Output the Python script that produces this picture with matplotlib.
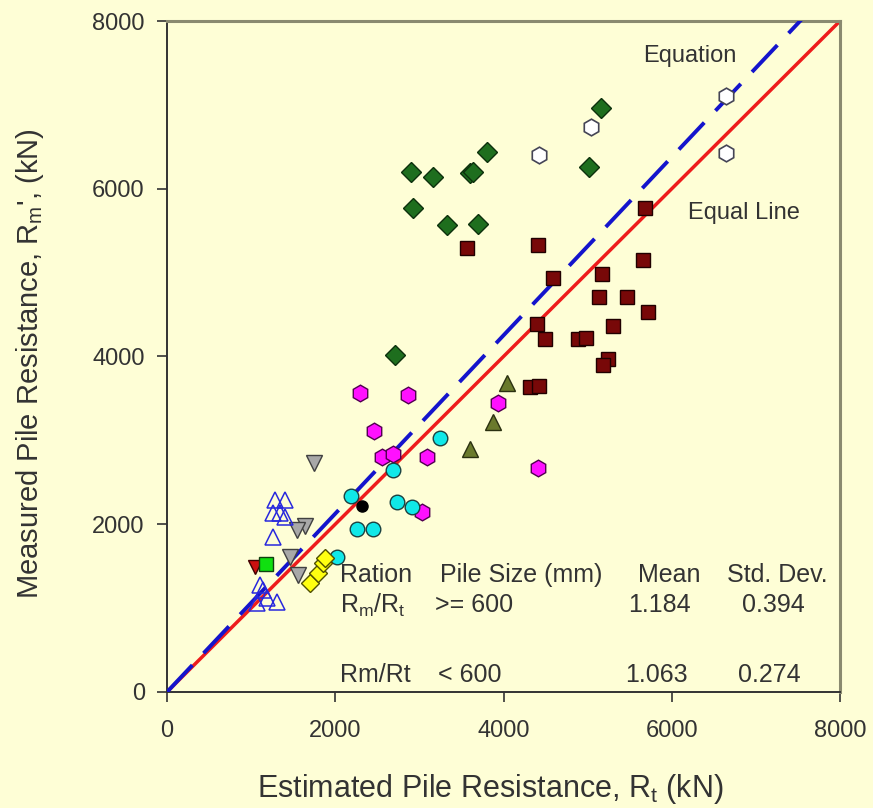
import numpy as np
import matplotlib
matplotlib.use("Agg")
import matplotlib.pyplot as plt

plt.rcParams['font.family'] = ['Liberation Sans', 'DejaVu Sans']

# pares (Rt, Rm) em kN
green_x = [2898, 3167, 3603, 3642, 3809, 2929, 3326, 3702, 5021, 5161, 2711]
green_y = [6201, 6142, 6182, 6201, 6440, 5765, 5566, 5574, 6254, 6957, 4017]

hex_open_x = [5042, 4423, 6639, 6639]
hex_open_y = [6738, 6400, 7104, 6421]

red_sq_x = [3571, 4415, 4594, 5169, 5664, 5141, 5466, 5723, 5300, 4403,
            4498, 4891, 4982, 5247, 5188, 4316, 4427, 5684]
red_sq_y = [5288, 5328, 4930, 4982, 5149, 4705, 4711, 4533, 4362, 4386,
            4214, 4214, 4226, 3976, 3897, 3639, 3647, 5765]

olive_x = [4039, 3873, 3603]
olive_y = [3679, 3222, 2893]

magenta_x = [2295, 2869, 2465, 2553, 2691, 3088, 3939, 3028, 4416]
magenta_y = [3560, 3540, 3115, 2805, 2837, 2796, 3448, 2149, 2670]

cyan_x = [3246, 2188, 2731, 2909, 2263, 2453, 2691, 2018]
cyan_y = [3024, 2340, 2268, 2209, 1949, 1943, 2646, 1605]

black_x = [2315]
black_y = [2217]

yellow_x = [1700, 1799, 1859, 1879]
yellow_y = [1296, 1415, 1534, 1594]

grey_x = [1752, 1641, 1542, 1463, 1561]
grey_y = [2733, 1979, 1931, 1613, 1394]

blue_tri_x = [1284, 1403, 1264, 1344, 1403, 1264, 1106, 1185, 1304, 1066, 1145]
blue_tri_y = [2288, 2288, 2130, 2130, 2089, 1851, 1275, 1117, 1076, 1057, 1216]

red_tri_x = [1046]
red_tri_y = [1494]

lime_x = [1177]
lime_y = [1526]

mean_ratio = 1.063

bg = '#fefed6'
txt = '#333333'

fig = plt.figure(figsize=(8.73, 8.08), dpi=100, facecolor=bg)
ax = fig.add_axes([0.1913, 0.1436, 0.7709, 0.8304], facecolor=bg)

# linhas
xl = np.array([0, 8000])
ax.plot(xl, xl, color='#ee1c1c', lw=2.5, zorder=2)
ax.plot(xl, mean_ratio * xl, color='#1414cc', lw=2.8, dashes=(9.5, 4.2), zorder=3)

ax.plot(green_x, green_y, 'D', ms=10.5, mfc='#1e6e1e', mec='#0c300c', mew=1, zorder=4)
ax.plot(hex_open_x, hex_open_y, 'h', ms=12, mfc='white', mec='#444455', mew=1.2, zorder=4)
ax.plot(red_sq_x, red_sq_y, 's', ms=10.5, mfc='#780808', mec='#200000', mew=1, zorder=4)
ax.plot(olive_x, olive_y, '^', ms=11, mfc='#6a7a2c', mec='#2a3010', mew=1, zorder=4)
ax.plot(magenta_x, magenta_y, 'h', ms=12, mfc='#ff10ff', mec='#500050', mew=1, zorder=4)
ax.plot(cyan_x, cyan_y, 'o', ms=10.5, mfc='#10e8e8', mec='#1a4040', mew=1, zorder=4)
ax.plot(black_x, black_y, 'o', ms=8, mfc='black', mec='black', zorder=4)
ax.plot(yellow_x, yellow_y, 'D', ms=9, mfc='#ffff10', mec='#505000', mew=1, zorder=4)
ax.plot(grey_x, grey_y, 'v', ms=11, mfc='#a8a8a8', mec='#404040', mew=1, zorder=4)
ax.plot(blue_tri_x, blue_tri_y, '^', ms=11, mfc='none', mec='#2828dd', mew=1.1, zorder=4)
ax.plot(red_tri_x, red_tri_y, 'v', ms=10, mfc='#cc1010', mec='#400000', mew=1, zorder=4)
ax.plot(lime_x, lime_y, 's', ms=10, mfc='#10e010', mec='#104010', mew=1, zorder=4)

ax.set_xlim(0, 8000)
ax.set_ylim(0, 8000)
ax.set_xticks([0, 2000, 4000, 6000, 8000])
ax.set_yticks([0, 2000, 4000, 6000, 8000])
ax.tick_params(labelsize=17, colors=txt, length=7, width=1.2, direction='out')
ax.tick_params(axis='x', pad=13)
ax.tick_params(axis='y', pad=9)
for s in ['left', 'bottom']:
    ax.spines[s].set_color('#333333')
    ax.spines[s].set_linewidth(1.4)
for s in ['top', 'right']:
    ax.spines[s].set_color('#8a8a70')
    ax.spines[s].set_linewidth(2.2)

ax.set_xlabel('Estimated Pile Resistance, R$_\\mathregular{t}$ (kN)', fontsize=22, color=txt)
ax.xaxis.set_label_coords(0.48, -0.12)
ax.set_ylabel("Measured Pile Resistance, R$_\\mathregular{m}$', (kN)", fontsize=21, color=txt)
ax.yaxis.set_label_coords(-0.18, 0.49)

ax.text(6220, 7510, 'Equation', fontsize=17, color=txt, ha='center', va='baseline')
ax.text(6195, 5640, 'Equal Line', fontsize=17, color=txt, ha='left', va='baseline')

# tabela
tf = dict(fontsize=18, color=txt, va='center', ha='left', zorder=5)
ax.text(2057, 1394, 'Ration', **tf)
ax.text(3246, 1394, 'Pile Size (mm)', **tf)
ax.text(5600, 1394, 'Mean', **tf)
ax.text(6659, 1394, 'Std. Dev.', **tf)
ax.text(2057, 1037, 'R$_\\mathregular{m}$/R$_\\mathregular{t}$', **tf)
ax.text(3187, 1037, '>= 600', **tf)
ax.text(5482, 1037, '1.184', **tf)
ax.text(6837, 1037, '0.394', **tf)
ax.text(2057, 203, 'Rm/Rt', **tf)
ax.text(3222, 203, '< 600', **tf)
ax.text(5446, 203, '1.063', **tf)
ax.text(6790, 203, '0.274', **tf)

fig.savefig('out.png', dpi=100, facecolor=bg)
